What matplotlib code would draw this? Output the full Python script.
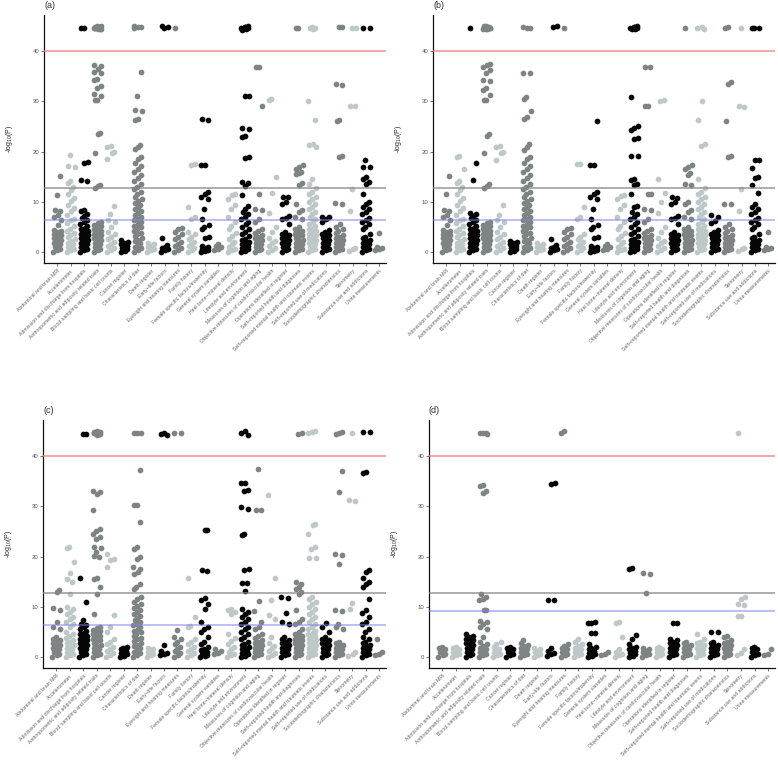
import matplotlib
matplotlib.use('Agg')
import matplotlib.pyplot as plt

plt.rcParams['font.family'] = ['Liberation Sans', 'DejaVu Sans']
plt.rcParams['mathtext.default'] = 'regular'

categories = [
    'Abdominal and brain MRI', 'Accelerometer',
    'Admission and discharge from hospitals',
    'Anthropometric and adiposity related traits',
    'Blood sampling and basic cell counts', 'Cancer register',
    'Characteristics of diet', 'Death register', 'Early\u2212life factors',
    'Eyesight and hearing measures', 'Family history',
    'Female specific factors/maternity', 'General system variables',
    'Heel bone\u2212mineral density', 'Lifestyle and environment',
    'Measures of cognition and aging',
    'Objective measures of cardiovascular health',
    'Operations identified in register',
    'Self\u2212reported health and diagnoses',
    'Self\u2212reported mental health and traumatic events',
    'Self\u2212reported use of medications',
    'Sociodemographic characteristics', 'Spirometry',
    'Substance use and addictions', 'Urine measurements',
]

# -log10(P) values per category
vals_a = [
    [0, 0.3, 0.6, 0.9, 1.2, 1.5, 1.8, 2.1, 2.4, 2.7, 3.0, 3.3, 3.6, 3.9, 4.2, 4.4, 5.3, 6.3, 6.9, 7.4, 8.2, 8.4, 11.3, 15.2],
    [0, 0.3, 0.6, 0.9, 1.2, 1.5, 1.8, 2.1, 2.5, 2.9, 3.3, 3.7, 4.1, 4.6, 5.2, 5.8, 6.3, 6.6, 7.4, 8.2, 8.8, 9.4, 10.1, 10.8, 11.5, 12.3, 12.9, 13.7, 14.1, 16.9, 17.2, 19.3],
    [0, 0.3, 0.6, 0.9, 1.2, 1.5, 1.8, 2.1, 2.4, 2.7, 3.0, 3.3, 3.6, 3.9, 4.2, 4.5, 4.8, 5.1, 5.5, 5.9, 6.3, 6.8, 7.2, 7.6, 8.1, 8.3, 14.2, 14.3, 17.8, 17.9, 44.6, 44.6],
    [0, 0.3, 0.6, 0.9, 1.2, 1.5, 1.8, 2.1, 2.4, 2.7, 3.0, 3.3, 3.6, 3.9, 4.2, 4.5, 4.8, 5.1, 5.4, 5.7, 6.0, 12.8, 13.1, 13.4, 19.8, 23.5, 23.8, 30.2, 30.3, 31.0, 31.5, 32.6, 33.0, 34.2, 34.5, 35.6, 35.9, 36.5, 37.0, 37.3, 44.4, 44.5, 44.6, 44.7, 44.8, 44.9, 45.0, 44.5, 44.7, 44.9, 45.0, 44.6],
    [0, 0.4, 0.8, 1.2, 1.6, 2.0, 2.5, 3.0, 3.5, 4.0, 5.0, 6.0, 6.4, 7.5, 9.2, 18.5, 19.8, 20.0, 21.0, 21.1],
    [0, 0.25, 0.5, 0.75, 1.0, 1.25, 1.5, 1.75, 2.0, 2.3],
    [0, 0.35, 0.7, 1.05, 1.4, 1.75, 2.1, 2.45, 2.8, 3.15, 3.5, 3.85, 4.2, 4.55, 4.9, 5.25, 5.6, 5.95, 6.3, 6.65, 7.0, 7.4, 7.8, 8.2, 8.6, 9.0, 9.4, 9.8, 10.2, 10.6, 11.0, 11.5, 12.0, 12.5, 13.0, 13.6, 14.2, 14.8, 15.4, 16.0, 16.5, 17.2, 17.8, 18.5, 19.0, 20.5, 21.0, 21.3, 26.3, 26.5, 28.0, 28.2, 31.0, 35.8, 44.6, 44.8, 44.8, 45.0],
    [0, 0.3, 0.6, 0.9, 1.2, 1.5, 1.8],
    [0, 0.3, 0.5, 0.8, 1.0, 1.3, 2.7, 44.6, 44.8, 45.0],
    [0, 0.4, 0.8, 1.2, 1.6, 2.0, 2.5, 3.0, 3.5, 4.0, 4.5, 4.8, 44.6],
    [0, 0.4, 0.8, 1.2, 1.6, 2.0, 2.5, 3.0, 3.5, 4.0, 6.5, 7.0, 9.0, 17.4, 17.5],
    [0, 0.2, 0.4, 0.6, 0.8, 1.0, 1.2, 2.7, 3.0, 4.5, 5.0, 5.3, 6.5, 8.5, 10.5, 11.0, 11.5, 12.0, 17.3, 17.3, 26.3, 26.5],
    [0.3, 0.6, 0.9, 1.2, 1.6],
    [0, 0.3, 0.6, 1.0, 1.5, 2.0, 2.6, 3.2, 3.8, 4.5, 5.2, 6.0, 7.0, 8.5, 9.3, 10.5, 11.3, 11.5],
    [0, 0.25, 0.5, 0.75, 1.0, 1.25, 1.5, 1.75, 2.0, 2.3, 2.6, 3.2, 3.6, 4.0, 4.5, 5.0, 5.5, 6.0, 6.5, 7.0, 7.5, 8.0, 8.5, 9.2, 11.3, 13.2, 13.7, 14.0, 18.8, 19.0, 23.0, 23.1, 24.5, 24.6, 31.0, 31.0, 44.3, 44.5, 44.6, 44.7, 44.8, 45.0, 44.4, 44.9],
    [0, 0.3, 0.6, 0.9, 1.2, 1.5, 1.8, 2.1, 2.4, 2.7, 3.0, 3.4, 3.8, 4.2, 4.5, 6.0, 6.5, 8.3, 8.5, 11.5, 29.0, 36.8, 36.8],
    [0, 0.4, 0.8, 1.2, 1.7, 2.2, 2.8, 4.0, 5.0, 7.7, 11.8, 15.0, 30.3, 30.5],
    [0, 0.3, 0.6, 0.9, 1.2, 1.5, 1.8, 2.1, 2.4, 2.7, 3.0, 3.3, 3.6, 4.0, 5.5, 6.5, 6.8, 7.2, 9.5, 10.0, 11.0, 11.0],
    [0, 0.3, 0.6, 0.9, 1.2, 1.5, 1.8, 2.1, 2.4, 2.7, 3.0, 3.3, 3.6, 3.9, 4.2, 4.6, 5.0, 6.5, 7.0, 8.0, 8.3, 9.5, 13.3, 13.8, 15.5, 15.8, 16.0, 16.5, 17.0, 17.3, 44.6, 44.6],
    [0, 0.3, 0.6, 0.9, 1.2, 1.5, 1.8, 2.1, 2.4, 2.7, 3.0, 3.3, 3.6, 3.9, 4.2, 4.5, 4.8, 5.2, 5.6, 6.0, 6.5, 7.0, 7.5, 8.0, 8.5, 9.0, 9.5, 10.0, 10.5, 11.0, 11.5, 12.0, 12.8, 13.5, 14.5, 21.0, 21.3, 21.5, 26.3, 30.0, 44.4, 44.6, 44.6, 44.8],
    [0, 0.3, 0.6, 0.9, 1.2, 1.5, 1.8, 2.1, 2.4, 2.7, 3.0, 3.3, 3.6, 4.0, 4.4, 6.0, 6.5, 7.0, 7.0],
    [0, 0.3, 0.6, 0.9, 1.2, 1.5, 1.8, 2.1, 2.4, 2.7, 3.0, 3.4, 3.8, 4.2, 4.6, 5.0, 5.5, 9.5, 9.8, 19.0, 19.2, 26.0, 26.3, 33.3, 33.5, 44.8, 44.8],
    [0.2, 0.5, 0.8, 8.2, 12.5, 29.0, 29.0, 44.6, 44.6],
    [0, 0.3, 0.6, 0.9, 1.2, 1.5, 1.8, 2.1, 2.4, 2.7, 3.0, 3.5, 4.5, 5.0, 5.5, 6.0, 6.3, 6.8, 7.5, 8.0, 8.5, 9.0, 9.5, 10.0, 11.5, 13.5, 14.0, 14.5, 15.0, 17.0, 17.0, 18.3, 44.6, 44.6],
    [0.3, 0.5, 0.7, 1.0, 3.8],
]

vals_b = [
    [0, 0.3, 0.6, 0.9, 1.2, 1.5, 1.8, 2.1, 2.4, 2.7, 3.0, 3.3, 3.6, 3.9, 4.2, 4.4, 5.3, 6.3, 6.9, 7.4, 8.2, 8.4, 11.5, 15.2],
    [0, 0.3, 0.6, 0.9, 1.2, 1.5, 1.8, 2.1, 2.5, 2.9, 3.3, 3.7, 4.1, 4.6, 5.2, 5.8, 6.3, 6.6, 7.4, 8.2, 8.8, 9.4, 10.1, 10.8, 11.5, 12.3, 12.9, 13.8, 14.1, 16.6, 19.0, 19.2],
    [0, 0.3, 0.6, 0.9, 1.2, 1.5, 1.8, 2.1, 2.4, 2.7, 3.0, 3.3, 3.6, 3.9, 4.2, 4.5, 4.8, 5.1, 5.5, 5.9, 6.3, 6.8, 7.2, 7.6, 7.8, 14.3, 17.8, 44.6],
    [0, 0.3, 0.6, 0.9, 1.2, 1.5, 1.8, 2.1, 2.4, 2.7, 3.0, 3.3, 3.6, 3.9, 4.2, 4.5, 4.8, 5.1, 5.4, 5.7, 6.0, 12.7, 13.2, 13.5, 19.8, 23.2, 23.6, 30.2, 30.3, 31.2, 32.3, 32.6, 34.0, 34.3, 35.6, 36.3, 36.8, 37.2, 37.5, 44.4, 44.5, 44.6, 44.7, 44.8, 44.9, 45.0, 44.5, 44.7, 44.9, 45.0, 44.6],
    [0, 0.4, 0.8, 1.2, 1.6, 2.0, 2.5, 3.0, 3.5, 4.0, 5.0, 6.0, 6.4, 7.3, 9.4, 18.3, 19.8, 20.0, 21.0, 21.1],
    [0, 0.25, 0.5, 0.75, 1.0, 1.25, 1.5, 1.75, 2.0, 2.2],
    [0, 0.35, 0.7, 1.05, 1.4, 1.75, 2.1, 2.45, 2.8, 3.15, 3.5, 3.85, 4.2, 4.55, 4.9, 5.25, 5.6, 5.95, 6.3, 6.65, 7.0, 7.4, 7.8, 8.2, 8.6, 9.0, 9.4, 9.8, 10.2, 10.6, 11.0, 11.5, 12.0, 12.5, 13.0, 13.6, 14.2, 14.8, 15.4, 16.0, 16.5, 17.2, 17.8, 18.5, 19.0, 20.3, 21.0, 21.5, 26.5, 26.8, 28.0, 30.5, 30.8, 35.7, 35.7, 44.6, 44.7, 44.9],
    [0, 0.3, 0.6, 0.9, 1.2, 1.5, 1.8],
    [0, 0.3, 0.5, 0.8, 1.0, 1.3, 2.6, 44.8, 45.0],
    [0, 0.4, 0.8, 1.2, 1.6, 2.0, 2.5, 3.0, 3.5, 4.0, 4.5, 4.8, 44.6],
    [0, 0.4, 0.8, 1.2, 1.6, 2.0, 2.5, 3.0, 3.5, 6.6, 7.0, 9.0, 17.5, 17.6],
    [0, 0.2, 0.4, 0.6, 0.8, 1.0, 1.2, 2.7, 3.0, 4.5, 5.0, 5.3, 6.5, 8.5, 10.5, 11.0, 11.5, 12.0, 17.3, 17.3, 26.1],
    [0.3, 0.6, 0.9, 1.2, 1.5],
    [0, 0.3, 0.6, 1.0, 1.5, 2.0, 2.6, 3.2, 3.8, 4.5, 5.2, 6.0, 7.0, 8.5, 9.3, 10.5, 11.2, 11.4],
    [0, 0.25, 0.5, 0.75, 1.0, 1.25, 1.5, 1.75, 2.0, 2.3, 2.6, 3.2, 3.6, 4.0, 4.5, 5.0, 5.5, 6.0, 6.5, 7.0, 7.5, 8.0, 9.0, 9.2, 11.5, 13.3, 13.5, 14.3, 14.5, 19.2, 19.2, 22.5, 22.8, 24.3, 24.6, 25.0, 30.8, 44.5, 44.6, 44.7, 44.8, 45.0, 44.5, 44.9],
    [0, 0.3, 0.6, 0.9, 1.2, 1.5, 1.8, 2.1, 2.4, 2.7, 3.0, 3.4, 3.8, 4.2, 4.5, 6.0, 6.5, 8.3, 8.5, 11.5, 11.5, 29.0, 29.0, 36.9, 36.9],
    [0, 0.4, 0.8, 1.2, 1.7, 2.2, 2.8, 4.0, 5.0, 7.8, 10.0, 11.8, 14.5, 30.0, 30.2],
    [0, 0.3, 0.6, 0.9, 1.2, 1.5, 1.8, 2.1, 2.4, 2.7, 3.0, 3.3, 3.6, 4.0, 5.5, 6.5, 6.8, 7.2, 9.5, 10.0, 10.8, 11.0],
    [0, 0.3, 0.6, 0.9, 1.2, 1.5, 1.8, 2.1, 2.4, 2.7, 3.0, 3.3, 3.6, 3.9, 4.2, 4.6, 5.0, 6.5, 7.0, 8.0, 8.3, 9.5, 10.0, 13.3, 13.5, 15.3, 15.8, 16.5, 17.0, 17.3, 44.6],
    [0, 0.3, 0.6, 0.9, 1.2, 1.5, 1.8, 2.1, 2.4, 2.7, 3.0, 3.3, 3.6, 3.9, 4.2, 4.5, 4.8, 5.2, 5.6, 6.0, 6.5, 7.0, 7.5, 8.0, 8.5, 9.0, 9.5, 10.0, 10.5, 11.0, 11.5, 12.0, 12.8, 14.5, 21.2, 21.5, 26.3, 30.0, 44.5, 44.6, 44.8],
    [0, 0.3, 0.6, 0.9, 1.2, 1.5, 1.8, 2.1, 2.4, 2.7, 3.0, 3.3, 3.6, 4.0, 4.4, 5.8, 6.2, 7.0, 7.3],
    [0, 0.3, 0.6, 0.9, 1.2, 1.5, 1.8, 2.1, 2.4, 2.7, 3.0, 3.4, 3.8, 4.2, 4.6, 5.0, 5.5, 9.5, 9.5, 19.0, 19.2, 26.0, 33.5, 33.8, 44.6, 44.8],
    [0.2, 0.5, 0.8, 8.2, 12.5, 28.8, 29.0, 44.6],
    [0, 0.3, 0.6, 0.9, 1.2, 1.5, 1.8, 2.1, 2.4, 2.7, 3.0, 3.5, 4.5, 5.0, 5.5, 6.0, 6.3, 6.8, 7.5, 8.0, 8.5, 9.0, 9.5, 11.8, 13.3, 14.8, 15.0, 16.7, 18.3, 18.3, 44.6, 44.6, 44.6],
    [0.3, 0.5, 0.7, 1.0, 3.9],
]

vals_c = [
    [0, 0.3, 0.6, 0.9, 1.2, 1.5, 1.8, 2.1, 2.4, 2.7, 3.0, 3.3, 3.6, 4.0, 5.5, 6.0, 7.0, 9.3, 9.8, 13.0, 13.3],
    [0, 0.3, 0.6, 0.9, 1.2, 1.5, 1.8, 2.1, 2.4, 2.7, 3.0, 3.4, 3.8, 4.2, 4.6, 5.0, 6.0, 6.5, 7.0, 7.5, 8.0, 8.5, 9.0, 9.5, 10.0, 12.5, 15.0, 15.5, 16.7, 19.0, 21.7, 22.0],
    [0, 0.3, 0.6, 0.9, 1.2, 1.5, 1.8, 2.1, 2.4, 2.7, 3.0, 3.3, 3.6, 3.9, 4.2, 4.5, 4.8, 5.1, 5.5, 5.9, 6.3, 6.5, 7.3, 11.0, 15.7, 44.5, 44.5],
    [0, 0.3, 0.6, 0.9, 1.2, 1.5, 1.8, 2.1, 2.4, 2.7, 3.0, 3.3, 3.6, 3.9, 4.2, 4.5, 4.8, 5.1, 5.4, 5.7, 6.0, 8.5, 12.5, 14.0, 15.5, 15.8, 20.0, 20.2, 21.0, 21.8, 22.0, 23.5, 24.0, 24.5, 25.0, 25.5, 29.3, 32.5, 32.8, 33.0, 44.3, 44.5, 44.6, 44.7, 44.8, 44.9, 45.0, 44.4, 44.6, 44.8],
    [0, 0.4, 0.8, 1.2, 1.6, 2.0, 2.5, 3.0, 3.5, 5.0, 6.0, 8.3, 18.0, 19.3, 19.5, 20.5],
    [0, 0.25, 0.5, 0.75, 1.0, 1.25, 1.5, 1.75, 2.0],
    [0, 0.35, 0.7, 1.05, 1.4, 1.75, 2.1, 2.45, 2.8, 3.15, 3.5, 3.85, 4.2, 4.55, 4.9, 5.25, 5.6, 5.95, 6.3, 6.65, 7.0, 7.4, 7.8, 8.2, 8.6, 9.0, 9.4, 9.8, 10.2, 10.6, 11.0, 11.5, 12.0, 13.5, 14.0, 14.5, 16.5, 17.0, 17.5, 18.0, 19.5, 20.0, 21.5, 22.0, 26.8, 30.3, 30.3, 37.3, 44.6, 44.6, 44.6],
    [0, 0.3, 0.6, 0.9, 1.2, 1.5, 1.8],
    [0.3, 0.5, 0.8, 1.2, 2.3, 44.3, 44.5, 44.7],
    [0, 0.4, 0.8, 1.2, 1.6, 2.0, 2.5, 3.0, 3.5, 4.0, 5.3, 44.6, 44.6],
    [0, 0.4, 0.8, 1.2, 1.6, 2.0, 2.5, 3.0, 3.5, 6.0, 6.2, 8.0, 15.7],
    [0, 0.2, 0.4, 0.6, 0.8, 1.0, 1.3, 1.6, 2.0, 2.5, 3.0, 4.0, 5.0, 5.5, 6.0, 7.0, 9.5, 10.5, 11.3, 11.7, 17.2, 17.3, 25.2, 25.3],
    [0.5, 0.8, 1.2, 1.5],
    [0, 0.3, 0.6, 1.0, 1.5, 2.0, 2.6, 3.2, 3.8, 4.5, 8.5, 9.0, 9.3, 9.5],
    [0, 0.25, 0.5, 0.75, 1.0, 1.25, 1.5, 1.75, 2.0, 2.3, 2.6, 3.0, 3.5, 4.0, 4.5, 5.0, 5.5, 6.0, 6.5, 7.0, 7.5, 8.0, 8.5, 9.0, 9.5, 13.2, 14.8, 14.8, 17.3, 17.5, 24.3, 24.5, 29.5, 29.8, 33.0, 33.3, 34.7, 34.7, 44.3, 44.6, 45.0],
    [0, 0.3, 0.6, 0.9, 1.2, 1.5, 1.8, 2.1, 2.4, 2.7, 3.0, 3.4, 3.8, 4.2, 4.5, 5.5, 6.0, 7.0, 9.2, 11.2, 29.2, 29.2, 37.5],
    [0, 0.4, 0.8, 1.2, 1.7, 2.2, 2.8, 4.0, 7.5, 8.3, 11.3, 15.8, 32.2],
    [0, 0.3, 0.6, 0.9, 1.2, 1.5, 1.8, 2.1, 2.4, 2.7, 3.0, 3.3, 3.6, 4.0, 6.5, 7.0, 8.8, 11.8, 12.0],
    [0, 0.3, 0.6, 0.9, 1.2, 1.5, 1.8, 2.1, 2.4, 2.7, 3.0, 3.3, 3.6, 3.9, 4.2, 4.6, 5.0, 5.5, 6.5, 7.0, 7.5, 9.3, 12.5, 13.0, 13.5, 14.0, 14.5, 15.0, 44.4, 44.6],
    [0, 0.3, 0.6, 0.9, 1.2, 1.5, 1.8, 2.1, 2.4, 2.7, 3.0, 3.3, 3.6, 3.9, 4.2, 4.5, 4.8, 5.2, 5.6, 6.0, 6.5, 7.0, 7.5, 8.0, 8.5, 9.0, 9.5, 10.0, 10.5, 11.0, 11.5, 12.0, 19.8, 19.8, 21.5, 22.0, 24.5, 26.3, 26.5, 44.6, 44.8, 45.0],
    [0, 0.3, 0.6, 0.9, 1.2, 1.5, 1.8, 2.1, 2.4, 2.7, 3.0, 3.3, 3.6, 4.0, 5.0, 6.0, 6.8],
    [0, 0.3, 0.6, 0.9, 1.2, 1.5, 1.8, 2.1, 2.4, 2.7, 3.0, 5.5, 6.0, 6.5, 9.2, 9.3, 18.5, 20.3, 20.5, 32.8, 37.0, 44.5, 44.6, 44.8],
    [0.2, 0.5, 1.0, 9.5, 10.7, 31.0, 31.2, 44.6],
    [0, 0.3, 0.6, 0.9, 1.2, 1.5, 1.8, 2.1, 2.4, 2.7, 3.0, 3.5, 4.0, 5.0, 5.5, 6.5, 7.0, 8.0, 8.8, 9.3, 11.5, 14.0, 14.5, 15.0, 15.8, 17.0, 17.3, 36.6, 36.8, 44.8, 44.8],
    [0.3, 0.5, 1.0, 3.5],
]

vals_d = [
    [0, 0.3, 0.6, 0.9, 1.2, 1.5, 1.8, 2.0],
    [0, 0.3, 0.6, 0.9, 1.2, 1.5, 1.8, 2.0],
    [0, 0.3, 0.6, 0.9, 1.2, 1.5, 1.8, 2.1, 2.4, 2.7, 3.0, 3.3, 3.6, 3.9, 4.2, 4.5],
    [0, 0.3, 0.6, 0.9, 1.2, 1.5, 1.8, 2.2, 2.6, 3.0, 4.0, 5.5, 6.0, 6.5, 7.0, 7.2, 9.3, 9.3, 11.3, 11.5, 12.0, 12.5, 32.7, 33.0, 34.0, 34.2, 44.6, 44.7, 44.7, 44.5],
    [0, 0.3, 0.6, 0.9, 1.2, 1.6, 2.0, 2.5, 3.0],
    [0, 0.3, 0.6, 0.9, 1.2, 1.5, 1.8, 2.0],
    [0, 0.3, 0.6, 0.9, 1.2, 1.5, 1.8, 2.1, 2.4, 2.8, 3.3],
    [0, 0.3, 0.6, 0.9, 1.2, 1.5, 1.8],
    [0.2, 0.5, 0.8, 1.2, 1.8, 11.4, 11.4, 34.5, 34.7],
    [0, 0.3, 0.6, 0.9, 1.2, 1.5, 1.8, 2.1, 2.5, 44.7, 45.0],
    [0, 0.3, 0.6, 0.9, 1.2, 1.5, 1.8, 2.2, 2.6, 3.0, 3.5],
    [0, 0.25, 0.5, 0.75, 1.0, 1.25, 1.5, 1.75, 2.0, 2.5, 4.8, 4.8, 6.7, 6.8, 7.0],
    [0.3, 0.6, 0.9],
    [0, 0.3, 0.6, 1.0, 1.5, 4.0, 6.8, 7.0],
    [0, 0.25, 0.5, 0.75, 1.0, 1.25, 1.5, 1.75, 2.0, 2.5, 3.5, 4.3, 17.5, 17.7],
    [0, 0.3, 0.6, 0.9, 1.2, 1.5, 1.8, 12.7, 16.6, 16.7],
    [0, 0.3, 0.6, 0.9, 1.2, 1.5, 1.8, 2.0],
    [0, 0.3, 0.6, 0.9, 1.2, 1.5, 1.8, 2.1, 2.4, 2.7, 3.0, 3.3, 3.6, 6.7, 6.7],
    [0, 0.3, 0.6, 0.9, 1.2, 1.5, 1.8, 2.1, 2.4, 2.7, 3.0],
    [0, 0.3, 0.6, 0.9, 1.2, 1.5, 1.8, 2.1, 2.4, 2.7, 3.0, 3.5, 4.5],
    [0, 0.3, 0.6, 0.9, 1.2, 1.5, 1.8, 2.1, 2.4, 2.7, 3.0, 5.0, 5.0],
    [0, 0.3, 0.6, 0.9, 1.2, 1.5, 1.8, 2.1, 2.4, 2.7, 3.0, 3.3, 4.0, 4.2],
    [0.3, 0.8, 1.5, 8.2, 8.2, 10.4, 10.6, 11.5, 12.0, 44.6],
    [0, 0.3, 0.6, 0.9, 1.2, 1.5, 1.8, 2.0],
    [0.3, 0.5, 1.5],
]

panel_tags = ['(a)', '(b)', '(c)', '(d)']
thresholds = [
    (40.0, 12.8, 6.4),
    (40.0, 12.8, 6.4),
    (40.0, 12.8, 6.3),
    (40.0, 12.7, 9.2),
]
yticks = [0, 10, 20, 30, 40]

point_colors = ['#7e8484', '#bfc8c8', '#050505']
cols = [-0.24, 0.0, 0.24]

fig = plt.figure(figsize=(7.78, 7.82), dpi=100)
boxes = [
    [0.0566, 0.6633, 0.4396, 0.3178],
    [0.5566, 0.6633, 0.4396, 0.3178],
    [0.0553, 0.1454, 0.4409, 0.3178],
    [0.5514, 0.1454, 0.4447, 0.3178],
]

for p, vals in enumerate([vals_a, vals_b, vals_c, vals_d]):
    ax = fig.add_axes(boxes[p])
    for k, v in enumerate(vals):
        xs = []
        for i in range(len(v)):
            # fixed jitter pattern so the dense groups fill out
            xs.append(k + 1 + cols[i % 3] + (((i * 0.618) % 1) - 0.5) * 0.1)
        ax.scatter(xs, v, s=17, color=point_colors[k % 3], linewidths=0, zorder=2)

    red, grey, blue = thresholds[p]
    ax.axhline(red, color='#f08080', lw=1.2, alpha=0.8, zorder=3)
    ax.axhline(grey, color='#888888', lw=1.2, alpha=0.8, zorder=3)
    ax.axhline(blue, color='#8080f0', lw=1.2, alpha=0.6, zorder=3)

    ax.set_xlim(0.01, 25.5)
    ax.set_ylim(-2.25, 47.25)
    ax.set_xticks(range(1, len(categories) + 1))
    ax.set_xticklabels(categories, rotation=45, ha='right', rotation_mode='anchor',
                       fontsize=3.7, color='#666666')
    ax.set_yticks(yticks)
    ax.set_yticklabels([str(t) for t in yticks], fontsize=4.3, color='#555555')
    ax.tick_params(length=2, width=0.5, color='#444444', pad=1.5)
    for side in ['top', 'right']:
        ax.spines[side].set_visible(False)
    for side in ['left', 'bottom']:
        ax.spines[side].set_linewidth(0.9)
        ax.spines[side].set_color('#111111')
    ax.set_ylabel('-log$_{10}$(P)', fontsize=5, color='#222222')
    ax.yaxis.set_label_coords(-0.085, 0.5)
    ax.text(0.0, 1.036, panel_tags[p], transform=ax.transAxes, ha='left', va='center',
            fontsize=6.5, color='#333333')

fig.savefig('out.png', dpi=100)
